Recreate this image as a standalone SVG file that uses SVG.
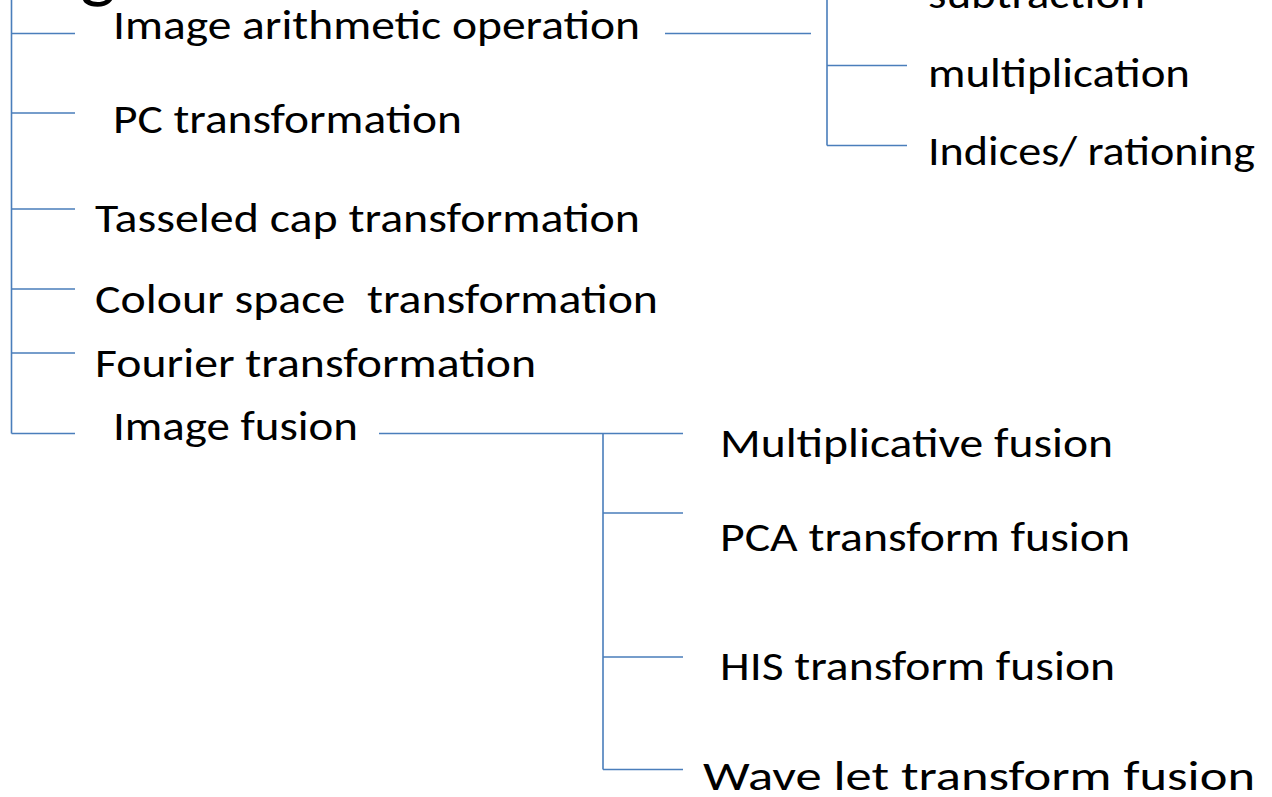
<svg xmlns="http://www.w3.org/2000/svg" width="1272" height="797" viewBox="0 0 1272 797">
<style>
  .t { font-family: Calibri, Carlito, Lato, "Open Sans", sans-serif; font-size: 41px; fill: #000; }
  .c { stroke: #4A7EBB; stroke-width: 1.6; fill: none; }
</style>
<rect width="1272" height="797" fill="#fff"/>
<g id="title"><text x="80" y="-7" style="font-family: Calibri, Carlito, Lato, 'Open Sans', sans-serif; font-size: 76px;">g</text></g>
<g id="connectors" class="c">
  <path d="M11.5,0 V433.5 M11.5,33.5 H75 M11.5,113 H75 M11.5,209 H75 M11.5,289 H75 M11.5,353 H75 M11.5,433.5 H75"/>
  <path d="M665,33.5 H811"/>
  <path d="M827,0 V145.5 M827,65.5 H907 M827,145.5 H907"/>
  <path d="M379,433.5 H683"/>
  <path d="M603,433.5 V769.5 M603,513 H683 M603,657 H683 M603,769.5 H683"/>
</g>
<g id="n-arith"><text class="t" x="113" y="39" textLength="527" lengthAdjust="spacingAndGlyphs">Image arithmetic operation</text></g>
<g id="n-pc"><text class="t" x="113" y="133" textLength="349" lengthAdjust="spacingAndGlyphs">PC transformation</text></g>
<g id="n-tasseled"><text class="t" x="95" y="232" textLength="545" lengthAdjust="spacingAndGlyphs">Tasseled cap transformation</text></g>
<g id="n-colour"><text class="t" x="95" y="313" textLength="563" lengthAdjust="spacingAndGlyphs" xml:space="preserve">Colour space  transformation</text></g>
<g id="n-fourier"><text class="t" x="95" y="377" textLength="441" lengthAdjust="spacingAndGlyphs">Fourier transformation</text></g>
<g id="n-fusion"><text class="t" x="113" y="440" textLength="245" lengthAdjust="spacingAndGlyphs">Image fusion</text></g>
<g id="n-subtraction"><text class="t" x="928" y="8" textLength="217" lengthAdjust="spacingAndGlyphs">subtraction</text></g>
<g id="n-multiplication"><text class="t" x="928" y="87" textLength="262" lengthAdjust="spacingAndGlyphs">multiplication</text></g>
<g id="n-indices"><text class="t" x="928" y="165" textLength="327" lengthAdjust="spacingAndGlyphs">Indices/ rationing</text></g>
<g id="n-multfusion"><text class="t" x="720" y="457" textLength="393" lengthAdjust="spacingAndGlyphs">Multiplicative fusion</text></g>
<g id="n-pca"><text class="t" x="720" y="551" textLength="410" lengthAdjust="spacingAndGlyphs">PCA transform fusion</text></g>
<g id="n-his"><text class="t" x="720" y="680" textLength="395" lengthAdjust="spacingAndGlyphs">HIS transform fusion</text></g>
<g id="n-wavelet"><text class="t" x="703" y="790" textLength="552" lengthAdjust="spacingAndGlyphs">Wave let transform fusion</text></g>
</svg>
